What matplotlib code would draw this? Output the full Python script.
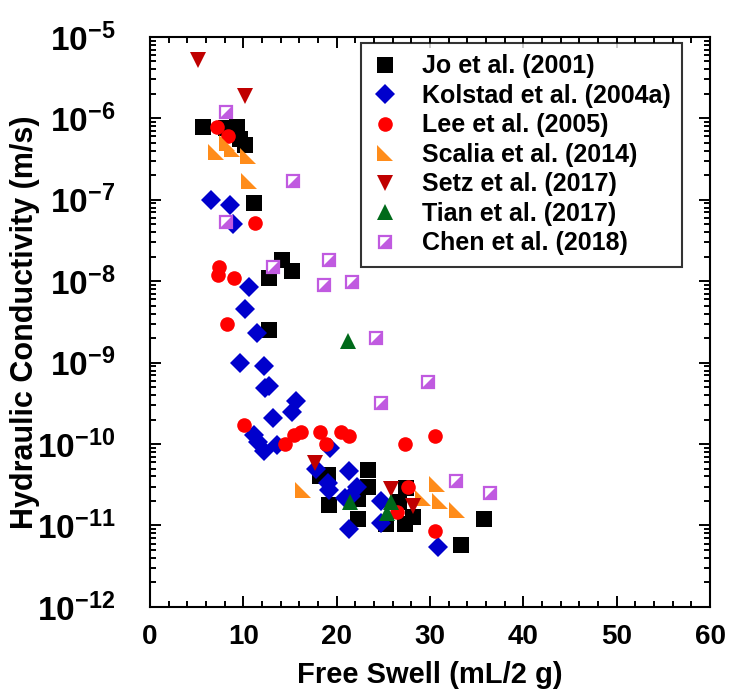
import numpy as np
import matplotlib
matplotlib.use('Agg')
import matplotlib.pyplot as plt
from matplotlib.path import Path
from matplotlib.ticker import LogLocator, MultipleLocator, NullFormatter
from matplotlib.legend_handler import HandlerTuple

plt.rcParams['font.family'] = ['Liberation Sans', 'DejaVu Sans']
plt.rcParams['font.weight'] = 'bold'
plt.rcParams['mathtext.fontset'] = 'custom'
plt.rcParams['mathtext.rm'] = 'Liberation Sans:bold'
plt.rcParams['mathtext.it'] = 'Liberation Sans:bold'
plt.rcParams['mathtext.bf'] = 'Liberation Sans:bold'
plt.rcParams['mathtext.default'] = 'rm'

# Data: free swell (mL/2 g) and hydraulic conductivity (m/s)
jo_x = [5.7, 8.2, 9.3, 9.6, 10.2, 11.2, 12.8, 14.1, 15.2, 12.8, 18.2, 19.1,
        19.2, 23.4, 23.4, 22.3, 22.3, 25.3, 27.3, 26.7, 27.4, 28.2, 35.8, 33.3]
jo_k = [7.8e-7, 7.5e-7, 7.8e-7, 5.5e-7, 4.7e-7, 9e-8, 1.1e-8, 1.8e-8, 1.35e-8,
        2.5e-9, 4e-11, 4.2e-11, 1.8e-11, 4.8e-11, 3e-11, 2.1e-11, 1.2e-11,
        1.05e-11, 1.05e-11, 1.95e-11, 2.9e-11, 1.26e-11, 1.2e-11, 5.7e-12]

kol_x = [6.55, 8.6, 8.9, 10.6, 10.2, 11.5, 9.65, 12.2, 12.3, 12.8, 15.6, 15.2,
         13.2, 11.1, 11.6, 12.2, 13.6, 19.3, 17.8, 19.1, 19.2, 21.3, 22.2, 21.5,
         20.9, 21.3, 24.7, 24.7, 30.9]
kol_k = [1e-7, 8.5e-8, 5e-8, 8.5e-9, 4.5e-9, 2.3e-9, 9.8e-10, 9.1e-10, 4.9e-10,
         5.2e-10, 3.4e-10, 2.5e-10, 2.1e-10, 1.3e-10, 1.07e-10, 8.3e-11, 9.8e-11,
         8.9e-11, 5e-11, 3.3e-11, 2.7e-11, 4.7e-11, 3e-11, 2.3e-11, 2.2e-11,
         9e-12, 2e-11, 1.07e-11, 5.5e-12]

lee_x = [7.15, 8.4, 11.3, 7.4, 7.3, 9.0, 8.3, 10.1, 14.5, 15.4, 16.2, 18.2,
         18.9, 20.5, 21.3, 27.3, 30.5, 27.6, 26.5, 30.5]
lee_k = [7.9e-7, 6e-7, 5.2e-8, 1.5e-8, 1.2e-8, 1.1e-8, 3e-9, 1.7e-10, 1e-10,
         1.3e-10, 1.4e-10, 1.4e-10, 1e-10, 1.4e-10, 1.26e-10, 1e-10, 1.26e-10,
         3e-11, 1.45e-11, 8.5e-12]

sca_x = [7.1, 8.3, 8.8, 10.5, 10.6, 16.4, 29.3, 30.8, 31.1, 32.9]
sca_k = [3.9e-7, 5e-7, 4.2e-7, 3.4e-7, 1.7e-7, 2.7e-11, 2.2e-11, 3.2e-11,
         2e-11, 1.55e-11]

setz_x = [5.1, 10.2, 17.7, 25.8, 28.2]
setz_k = [5.2e-6, 1.9e-6, 5.8e-11, 2.8e-11, 1.74e-11]

tian_x = [21.2, 21.4, 25.8, 25.4]
tian_k = [1.85e-9, 1.95e-11, 1.95e-11, 1.44e-11]

chen_x = [8.1, 15.3, 8.1, 13.2, 19.2, 18.7, 21.7, 24.2, 29.8, 24.7, 32.8, 36.4]
chen_k = [1.2e-6, 1.7e-7, 5.3e-8, 1.48e-8, 1.8e-8, 8.9e-9, 9.7e-9, 2e-9,
          5.7e-10, 3.2e-10, 3.5e-11, 2.5e-11]

labels = ['Jo et al. (2001)', 'Kolstad et al. (2004a)', 'Lee et al. (2005)',
          'Scalia et al. (2014)', 'Setz et al. (2017)', 'Tian et al. (2017)',
          'Chen et al. (2018)']

# custom markers
right_tri = Path([(-1, 1), (-1, -1), (1, -1), (-1, 1)],
                 [Path.MOVETO, Path.LINETO, Path.LINETO, Path.CLOSEPOLY])
half_sq = Path([(1, 1), (1, -1), (-1, -1), (1, 1)],
               [Path.MOVETO, Path.LINETO, Path.LINETO, Path.CLOSEPOLY])

fig = plt.figure(figsize=(7.35, 6.96), dpi=100)
ax = fig.add_axes([0.204, 0.128, 0.762, 0.819])

h_jo, = ax.plot(jo_x, jo_k, 's', color='black', ms=11, mew=0)
h_kol, = ax.plot(kol_x, kol_k, 'D', color='#0000cc', ms=10, mew=0)
h_lee, = ax.plot(lee_x, lee_k, 'o', color='#ff0000', ms=10.5, mew=0)
h_sca, = ax.plot(sca_x, sca_k, marker=right_tri, ls='none', color='#ff8c1a',
                 ms=11, mew=0)
h_setz, = ax.plot(setz_x, setz_k, 'v', color='#c00000', ms=11, mew=0)
h_tian, = ax.plot(tian_x, tian_k, '^', color='#006a1a', ms=11, mew=0)
h_chen1, = ax.plot(chen_x, chen_k, 's', mfc='white', mec='#c05ae0', ms=9,
                   mew=1.6)
h_chen2, = ax.plot(chen_x, chen_k, marker=half_sq, ls='none', color='#c05ae0',
                   ms=9, mew=0)

ax.set_yscale('log')
ax.set_xlim(0, 60)
ax.set_ylim(1e-12, 1e-5)
ax.xaxis.set_major_locator(MultipleLocator(10))
ax.xaxis.set_minor_locator(MultipleLocator(2))
ax.yaxis.set_major_locator(LogLocator(base=10, numticks=20))
ax.yaxis.set_minor_locator(LogLocator(base=10, subs=np.arange(2, 10), numticks=20))
ax.yaxis.set_minor_formatter(NullFormatter())
ax.tick_params(which='both', direction='in', top=True, right=True, width=1.4)
ax.tick_params(axis='x', labelsize=20, pad=12)
ax.tick_params(axis='y', labelsize=24, pad=25)
ax.tick_params(which='major', length=8)
ax.tick_params(which='minor', length=4.5)
for sp in ax.spines.values():
    sp.set_linewidth(1.5)

ax.set_xlabel('Free Swell (mL/2 g)', fontsize=21, fontweight='bold', labelpad=8)
ax.set_ylabel('Hydraulic Conductivity (m/s)', fontsize=22, fontweight='bold')
ax.yaxis.set_label_coords(-0.197, 0.5)

handles = [h_jo, h_kol, h_lee, h_sca, h_setz, h_tian, (h_chen1, h_chen2)]
leg = ax.legend(handles, labels, loc='upper right', fontsize=18,
                bbox_to_anchor=(0.95, 0.989),
                handler_map={tuple: HandlerTuple(ndivide=1, pad=0)},
                frameon=True, fancybox=False, edgecolor='black',
                handlelength=1.0, handletextpad=1.0, labelspacing=0.22,
                borderpad=0.45, borderaxespad=0)
leg.get_frame().set_linewidth(1.5)

fig.savefig('out.png', dpi=100)
